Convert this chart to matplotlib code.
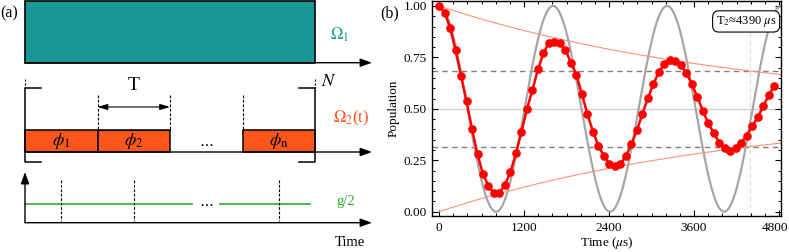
import numpy as np
import matplotlib
matplotlib.use("Agg")
import matplotlib.pyplot as plt
import matplotlib.transforms as mtransforms
from matplotlib.patches import Rectangle

plt.rcParams['font.family'] = ['Liberation Serif', 'DejaVu Serif']
plt.rcParams['mathtext.fontset'] = 'stix'

# ---- panel (b) data ----
t_step = 77.6           # us between measured points
population = [1.000, 0.968, 0.895, 0.786, 0.660, 0.536, 0.402, 0.279, 0.182, 0.125,
              0.089, 0.092, 0.130, 0.194, 0.284, 0.389, 0.499, 0.592, 0.692, 0.770,
              0.822, 0.825, 0.818, 0.786, 0.724, 0.665, 0.570, 0.475, 0.389, 0.321,
              0.269, 0.232, 0.224, 0.230, 0.271, 0.327, 0.397, 0.475, 0.551, 0.621,
              0.679, 0.718, 0.737, 0.734, 0.712, 0.673, 0.621, 0.556, 0.491, 0.429,
              0.381, 0.335, 0.308, 0.297, 0.308, 0.335, 0.370, 0.417, 0.459, 0.514,
              0.567, 0.611]
time_us = t_step*np.arange(len(population))
T2 = 4390.0             # us, decay time from the label
period = 1610.0         # us, ideal (undamped) oscillation period
x_ticks = [0, 1200, 2400, 3600, 4800]
y_ticks = [0.00, 0.25, 0.50, 0.75, 1.00]

# ---- panel (a) schematic, in units of one pulse slot T ----
phase_labels = [r'$\phi_1$', r'$\phi_2$', r'$\phi_{\mathrm{n}}$']
phase_slots = [0, 1, 3]
n_slots = 4

teal = '#1a9896'
orange = '#ff561c'
green = '#2aae2a'

fig = plt.figure(figsize=(7.89, 2.52), dpi=100)

# ================= panel (a) =================
ax = fig.add_axes([0, 0, 390/789, 1])
px = 72.5                      # pixels per slot
ax.set_xlim(-25/px, 365/px)
ax.set_ylim(252, 0)
ax.axis('off')
xend = (372-25)/px
arr = dict(arrowstyle='-|>,head_length=0.7,head_width=0.25', color='k', lw=1,
           shrinkA=0, shrinkB=0, mutation_scale=10)

# row 1: Omega_1
ax.add_patch(Rectangle((0, 1), n_slots, 61.7, fc=teal, ec='k', lw=1.2))
ax.annotate('', xy=(xend, 62.7), xytext=(0, 62.7), arrowprops=arr)
ax.text(4.21, 35, r'$\Omega_1$', color=teal, fontsize=12, va='center')

# row 2: Omega_2(t) pulse train
for lab, s in zip(phase_labels, phase_slots):
    ax.add_patch(Rectangle((s, 130), 1, 22, fc=orange, ec='k', lw=1.1))
    ax.text(s+0.5, 141, lab, fontsize=13, ha='center', va='center')
ax.text(2.5, 143, r'$\cdots$', fontsize=11, ha='center', va='center')
ax.annotate('', xy=(xend, 152), xytext=(0, 152), arrowprops=arr)
ax.plot([1, 2], [130, 130], color='k', lw=0.8)
for xb in [1, 2, 3]:
    ax.plot([xb, xb], [95, 130], color='k', lw=0.8, ls=(0, (2.5, 1.5)))
ax.annotate('', xy=(2, 107), xytext=(1, 107),
            arrowprops=dict(arrowstyle='<|-|>,head_length=0.6,head_width=0.18', color='k',
                            lw=0.8, shrinkA=0, shrinkB=0, mutation_scale=10))
ax.text(1.5, 85, 'T', fontsize=14, ha='center', va='center')
stub = 16/px
for xb, sgn in [(0, 1), (n_slots, -1)]:
    ax.plot([xb+sgn*stub, xb, xb, xb+sgn*stub], [88, 88, 162, 162], color='k', lw=1.1)
    ax.plot([xb, xb], [79, 88], color='k', lw=0.8, ls=(0, (2, 1.5)))
ax.text(4.08, 82, r'$N$', fontsize=13, ha='left', va='center')
ax.text(4.25, 118, r'$\Omega_2$(t)', color=orange, fontsize=12, va='center')

# row 3: coupling g/2
ax.annotate('', xy=(0, 172), xytext=(0, 222.7), arrowprops=arr)
ax.annotate('', xy=(xend, 222.7), xytext=(0, 222.7), arrowprops=arr)
ax.plot([0, (192-25)/px], [204, 204], color=green, lw=1.2)
ax.plot([(220-25)/px, (310-25)/px], [204, 204], color=green, lw=1.2)
ax.text(2.5, 204, r'$\cdots$', fontsize=11, ha='center', va='center')
for s in phase_slots:
    ax.plot([s+0.5, s+0.5], [180, 221], color='k', lw=0.8, ls=(0, (2.5, 1.5)))
ax.text(4.3, 202, 'g/2', color=green, fontsize=10.5, va='center')
ax.text(4.48, 242, 'Time', fontsize=10.5, ha='center', va='center')

fig.text(0.0, 1-13/252, '(a)', fontsize=11.5, va='center', ha='left')

# ================= panel (b) =================
bx = fig.add_axes([432.3/789, 36/252, 348.7/789, 215/252])
bx.set_xlim(-95, 4828)
bx.set_ylim(-0.021, 1.024)
tt = np.linspace(0, 4828, 600)
bx.axhline(0.5, color='#d0d0d0', lw=1, zorder=1)
bx.axhline(0.5+0.5/np.e, color='#808080', lw=1, ls=(0, (4, 3)), zorder=1)
bx.axhline(0.5-0.5/np.e, color='#808080', lw=1, ls=(0, (4, 3)), zorder=1)
bx.axvline(T2, color='#d8d8d8', lw=0.8, ls=(0, (4, 3)), zorder=1)
bx.plot(tt, 0.5+0.5*np.cos(2*np.pi*tt/period), color='#a6a6a6', lw=1.6, zorder=2)
bx.plot(tt, 0.5+0.5*np.exp(-tt/T2), color='#ff9077', lw=0.8, zorder=2)
bx.plot(tt, 0.5-0.5*np.exp(-tt/T2), color='#ff9077', lw=0.8, zorder=2)
bx.plot(time_us, population, color='#ff0000', lw=1.8, marker='o', ms=5.2, zorder=3)

bx.set_xticks(x_ticks)
bx.set_xticklabels([str(v) for v in x_ticks])
bx.set_yticks(y_ticks)
bx.set_yticklabels(['%.2f' % v for v in y_ticks])
bx.set_xticks(np.arange(0, 4801, 200), minor=True)
bx.set_yticks(np.arange(0, 1.001, 0.05), minor=True)
bx.tick_params(which='both', direction='in', top=True, right=True, labelsize=9.5, pad=4)
bx.tick_params(which='major', length=4, width=0.8)
bx.tick_params(which='minor', length=2.2, width=0.7)
for sp in bx.spines.values():
    sp.set_linewidth(1.0)
# keep the last x label inside the figure
last = bx.get_xticklabels()[-1]
last.set_transform(last.get_transform() +
                   mtransforms.ScaledTranslation(-4/100, 0, fig.dpi_scale_trans))
bx.set_xlabel(r'Time ($\mu$s)', fontsize=9.5, labelpad=1)
bx.set_ylabel('Population', fontsize=9.5, labelpad=3)
bx.text(0.90, 0.905, r'T$_2$≈4390 $\mu$s', transform=bx.transAxes, fontsize=9,
        ha='center', va='center',
        bbox=dict(boxstyle='round,pad=0.25,rounding_size=0.5', fc='white', ec='k', lw=0.8))
fig.text(380/789, 1-13/252, '(b)', fontsize=11.5, va='center', ha='left')

fig.savefig('out.png', dpi=100)
